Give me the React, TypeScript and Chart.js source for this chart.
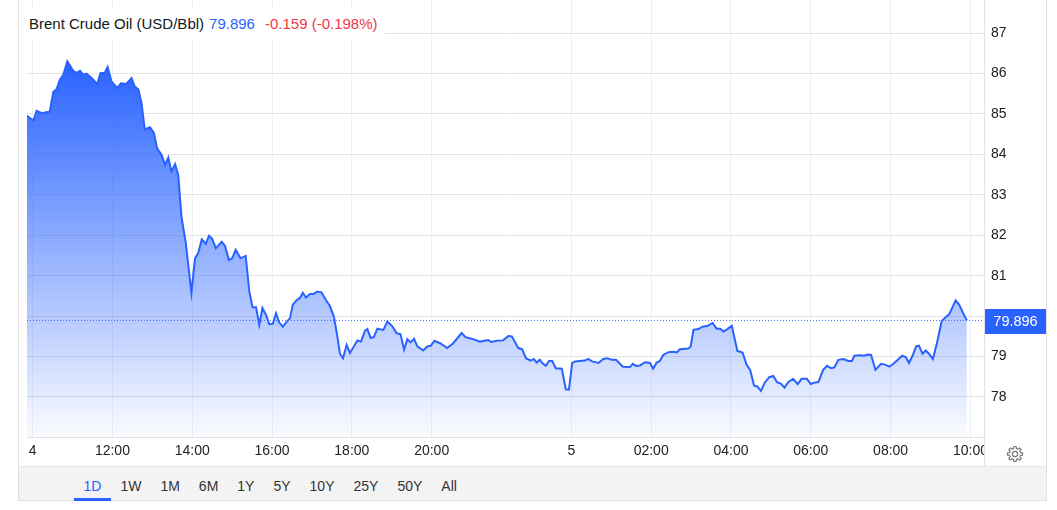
import React, { useEffect, useRef } from "react";
import { Chart, registerables } from "chart.js";

Chart.register(...registerables);

const FONT = '"Liberation Sans", Arial, Helvetica, sans-serif';

// display hours from 10:00 (day 4); the overnight pause is compressed on the axis
const times = [
  -0.15, 0.02, 0.1, 0.23, 0.43, 0.52, 0.6, 0.68, 0.77, 0.87,
  1.02, 1.1, 1.19, 1.27, 1.35, 1.48, 1.62, 1.7, 1.81, 1.88,
  1.98, 2.13, 2.21, 2.34, 2.48, 2.56, 2.65, 2.73, 2.81, 2.94,
  3.04, 3.12, 3.23, 3.32, 3.4, 3.48, 3.57, 3.65, 3.73, 3.84,
  3.98, 4.07, 4.15, 4.24, 4.34, 4.42, 4.5, 4.59, 4.74, 4.82,
  4.92, 5.0, 5.09, 5.21, 5.34, 5.43, 5.51, 5.6, 5.68, 5.76,
  5.85, 5.93, 6.02, 6.1, 6.18, 6.27, 6.35, 6.45, 6.52, 6.62,
  6.7, 6.77, 6.85, 6.95, 7.05, 7.13, 7.24, 7.35, 7.45, 7.55,
  7.63, 7.7, 7.78, 7.87, 7.95, 8.05, 8.14, 8.23, 8.33, 8.39,
  8.47, 8.55, 8.64, 8.79, 8.89, 9.02, 9.12, 9.22, 9.31, 9.39,
  9.47, 9.56, 9.64, 9.79, 9.89, 9.98, 10.07, 10.21, 10.39, 10.54,
  10.75, 10.85, 11.04, 11.21, 11.42, 11.49, 11.63, 11.79, 11.92, 12.01,
  12.17, 12.27, 12.36, 12.48, 12.56, 12.63, 12.71, 12.77, 12.86, 12.94,
  13.02, 13.11, 13.26, 13.36, 13.44, 13.52, 13.59, 13.84, 13.92, 14.02,
  14.18, 14.3, 14.4, 14.51, 14.62, 14.79, 14.97, 15.04, 15.12, 15.22,
  15.35, 15.47, 15.55, 15.64, 15.72, 15.8, 15.93, 16.06, 16.14, 16.22,
  16.43, 16.49, 16.56, 16.68, 16.79, 16.92, 17.04, 17.14, 17.23, 17.31,
  17.41, 17.52, 17.66, 17.79, 17.89, 17.98, 18.08, 18.16, 18.25, 18.35,
  18.46, 18.56, 18.66, 18.75, 18.84, 18.94, 19.06, 19.17, 19.27, 19.4,
  19.5, 19.61, 19.69, 19.81, 19.91, 20.01, 20.09, 20.19, 20.32, 20.44,
  20.53, 20.59, 20.73, 20.84, 20.93, 21.01, 21.12, 21.26, 21.36, 21.47,
  21.57, 21.68, 21.79, 21.88, 21.96, 22.05, 22.14, 22.21, 22.3, 22.38,
  22.46, 22.56, 22.66, 22.78, 22.88, 22.97, 23.13, 23.22, 23.31, 23.41,
];

const prices = [
  84.96, 84.84, 85.08, 85.02, 85.06, 85.55, 85.61, 85.84, 85.97, 86.3,
  86.07, 86.02, 86.07, 85.97, 86.0, 85.89, 85.74, 86.01, 86.02, 86.16,
  85.8, 85.64, 85.76, 85.74, 85.89, 85.68, 85.61, 85.27, 84.62, 84.67,
  84.53, 84.15, 83.99, 83.74, 83.92, 83.58, 83.76, 83.49, 82.46, 81.8,
  80.58, 81.43, 81.56, 81.9, 81.79, 81.99, 81.91, 81.68, 81.84, 81.74,
  81.39, 81.43, 81.64, 81.43, 81.49, 80.61, 80.22, 80.22, 79.78, 80.2,
  80.03, 79.8, 79.81, 80.07, 79.84, 79.74, 79.84, 79.95, 80.28, 80.4,
  80.45, 80.58, 80.46, 80.55, 80.55, 80.61, 80.59, 80.4, 80.25, 79.99,
  79.54, 79.07, 78.96, 79.29, 79.09, 79.25, 79.4, 79.37, 79.64, 79.68,
  79.46, 79.48, 79.69, 79.66, 79.87, 79.74, 79.58, 79.55, 79.17, 79.43,
  79.35, 79.44, 79.25, 79.15, 79.25, 79.27, 79.39, 79.33, 79.21, 79.33,
  79.58, 79.48, 79.43, 79.37, 79.41, 79.36, 79.39, 79.4, 79.51, 79.5,
  79.21, 79.18, 78.96, 78.9, 78.94, 78.85, 78.92, 78.84, 78.77, 78.89,
  78.89, 78.71, 78.7, 78.19, 78.18, 78.84, 78.88, 78.9, 78.94, 78.88,
  78.84, 78.94, 78.96, 78.92, 78.92, 78.75, 78.74, 78.82, 78.77, 78.78,
  78.86, 78.84, 78.7, 78.85, 78.89, 79.04, 79.11, 79.12, 79.1, 79.18,
  79.2, 79.25, 79.66, 79.68, 79.74, 79.76, 79.83, 79.69, 79.69, 79.62,
  79.68, 79.76, 79.14, 79.1, 78.8, 78.67, 78.28, 78.26, 78.15, 78.36,
  78.49, 78.52, 78.36, 78.33, 78.23, 78.37, 78.45, 78.32, 78.45, 78.45,
  78.32, 78.36, 78.37, 78.67, 78.77, 78.71, 78.73, 78.92, 78.94, 78.89,
  78.89, 79.02, 79.03, 79.02, 79.05, 79.04, 78.67, 78.82, 78.8, 78.75,
  78.82, 78.92, 79.02, 78.99, 78.84, 79.02, 79.25, 79.27, 79.07, 79.15,
  79.07, 78.94, 79.33, 79.88, 79.97, 80.05, 80.39, 80.28, 80.09, 79.896,
];

const xTickPositions = [0, 2, 4, 6, 8, 10, 13.5, 15.5, 17.5, 19.5, 21.5, 23.5];
const xTickLabels = ["4", "12:00", "14:00", "16:00", "18:00", "20:00", "5", "02:00", "04:00", "06:00", "08:00", "10:00"];
const yTickValues = [78, 79, 80, 81, 82, 83, 84, 85, 86, 87];

const titleText = "Brent Crude Oil (USD/Bbl)";
const lastPrice = 79.896;
const changeText = "-0.159 (-0.198%)";
const ranges = ["1D", "1W", "1M", "6M", "1Y", "5Y", "10Y", "25Y", "50Y", "All"];
const activeRange = "1D";

const BLUE = "#2962ff";
const RED = "#f23645";

function gearPath(cx: number, cy: number, rOut: number, rIn: number, teeth: number) {
  const pts: [number, number][] = [];
  const step = (Math.PI * 2) / teeth;
  for (let i = 0; i < teeth; i++) {
    const a = i * step;
    const hw = step * 0.2;
    const bw = step * 0.32;
    pts.push([a - bw, rIn], [a - hw, rOut], [a + hw, rOut], [a + bw, rIn]);
  }
  return (
    "M" +
    pts.map(([a, r]) => `${(cx + r * Math.cos(a)).toFixed(2)},${(cy + r * Math.sin(a)).toFixed(2)}`).join("L") +
    "Z"
  );
}

const overlayPlugin = {
  id: "priceOverlay",
  beforeDatasetsDraw(chart: any) {
    const { ctx, chartArea, scales } = chart;
    const y = Math.round(scales.y.getPixelForValue(lastPrice)) + 0.5;
    ctx.save();
    ctx.strokeStyle = "rgba(41,98,255,0.85)";
    ctx.lineWidth = 1;
    ctx.setLineDash([1, 2]);
    ctx.beginPath();
    ctx.moveTo(chartArea.left, y);
    ctx.lineTo(chartArea.right, y);
    ctx.stroke();
    ctx.restore();
  },
  afterDraw(chart: any) {
    const { ctx, chartArea, scales, width, height } = chart;
    ctx.save();
    // clip x labels overflowing into price-axis column
    ctx.fillStyle = "#ffffff";
    ctx.fillRect(chartArea.right + 1, chartArea.bottom + 1, width - chartArea.right - 1, height - chartArea.bottom - 1);
    // full-height price axis separator
    ctx.strokeStyle = "#e0e3eb";
    ctx.lineWidth = 1;
    ctx.beginPath();
    ctx.moveTo(Math.round(chartArea.right) + 0.5, 0);
    ctx.lineTo(Math.round(chartArea.right) + 0.5, height);
    ctx.stroke();
    // last price label
    const y = scales.y.getPixelForValue(lastPrice);
    const bx = Math.round(chartArea.right) + 1;
    const bw = width - bx;
    ctx.fillStyle = BLUE;
    ctx.fillRect(bx, Math.round(y - 11.5), bw, 25);
    ctx.fillStyle = "#ffffff";
    ctx.font = `14.5px ${FONT}`;
    ctx.textAlign = "center";
    ctx.textBaseline = "middle";
    ctx.fillText(lastPrice.toFixed(3), bx + bw / 2, y + 1.5);
    ctx.restore();
  },
};

export default function App() {
  const canvasRef = useRef<HTMLCanvasElement>(null);

  useEffect(() => {
    const canvas = canvasRef.current;
    if (!canvas) return;
    const maxPrice = Math.max(...prices);
    const chart = new Chart(canvas, {
      type: "line",
      data: {
        datasets: [
          {
            data: times.map((t, i) => ({ x: t, y: prices[i] })),
            borderColor: BLUE,
            borderWidth: 2,
            pointRadius: 0,
            tension: 0,
            fill: "start",
            backgroundColor: (ctx: any) => {
              const c = ctx.chart;
              const { chartArea, scales } = c;
              if (!chartArea) return "rgba(41,98,255,0.3)";
              const top = scales.y.getPixelForValue(maxPrice);
              const g = c.ctx.createLinearGradient(0, top, 0, chartArea.bottom);
              g.addColorStop(0, "rgba(41,98,255,1)");
              g.addColorStop(1, "rgba(41,98,255,0.02)");
              return g;
            },
          },
        ],
      },
      options: {
        animation: false,
        responsive: false,
        maintainAspectRatio: false,
        layout: { padding: { left: 8, top: 0, right: 0, bottom: 0 } },
        plugins: { legend: { display: false }, tooltip: { enabled: false } },
        scales: {
          x: {
            type: "linear",
            min: -0.14,
            max: 23.84,
            afterBuildTicks: (scale: any) => {
              scale.ticks = xTickPositions.map((v) => ({ value: v }));
            },
            afterFit: (scale: any) => {
              scale.height = 29;
              scale.paddingLeft = 0;
              scale.paddingRight = 0;
            },
            ticks: {
              autoSkip: false,
              maxRotation: 0,
              padding: 6,
              color: "#222",
              font: { family: FONT, size: 14 },
              callback: (_v: any, i: number) => xTickLabels[i],
            },
            grid: { color: "#edf0f4", drawTicks: false },
            border: { display: true, color: "#e0e0e0" },
          },
          y: {
            type: "linear",
            position: "right",
            min: 77.01,
            max: 87.82,
            afterBuildTicks: (scale: any) => {
              scale.ticks = yTickValues.map((v) => ({ value: v }));
            },
            afterFit: (scale: any) => {
              scale.width = 62;
              scale.paddingTop = 0;
              scale.paddingBottom = 0;
            },
            ticks: {
              padding: 7,
              color: "#222",
              font: { family: FONT, size: 14 },
              callback: (v: any) => String(v),
            },
            grid: { color: "#e4e4e4", drawTicks: false },
            border: { display: false },
          },
        },
      },
      plugins: [overlayPlugin],
    } as any);
    return () => chart.destroy();
  }, []);

  return (
    <div
      style={{
        position: "absolute",
        left: 0,
        top: 0,
        width: 1057,
        height: 510,
        background: "#fff",
        overflow: "hidden",
        fontFamily: FONT,
      }}
    >
      <div
        style={{
          position: "absolute",
          left: 18,
          top: -2,
          width: 1029,
          height: 503,
          boxSizing: "border-box",
          border: "1px solid #e0e0e0",
          background: "#fff",
        }}
      />
      <canvas
        ref={canvasRef}
        width={1027}
        height={466}
        style={{ position: "absolute", left: 19, top: 0, width: 1027, height: 466 }}
      />
      <div
        style={{
          position: "absolute",
          left: 27,
          top: 10,
          padding: "6px 7px 7px 2px",
          lineHeight: "16px",
          fontSize: 15,
          background: "#fff",
          color: "#131722",
          whiteSpace: "nowrap",
        }}
      >
        <span>{titleText}</span>
        <span style={{ color: BLUE, marginLeft: 5 }}>{lastPrice.toFixed(3)}</span>
        <span style={{ color: RED, marginLeft: 10 }}>{changeText}</span>
      </div>
      <svg
        width={18}
        height={18}
        viewBox="0 0 18 18"
        style={{ position: "absolute", left: 1005.5, top: 445 }}
      >
        <path d={gearPath(9, 9, 7.6, 5.6, 8)} fill="none" stroke="#777" strokeWidth={1.2} strokeLinejoin="round" />
        <circle cx={9} cy={9} r={2.6} fill="none" stroke="#777" strokeWidth={1.2} />
      </svg>
      <div
        style={{
          position: "absolute",
          left: 19,
          top: 466,
          width: 1027,
          height: 34,
          background: "#f3f3f3",
          borderTop: "1px solid #e6e6e6",
          boxSizing: "border-box",
        }}
      />
      <div
        style={{
          position: "absolute",
          left: 74,
          top: 466,
          height: 35,
          display: "flex",
          fontSize: 14,
        }}
      >
        {ranges.map((r) => (
          <div
            key={r}
            style={{
              position: "relative",
              padding: "0 9.5px",
              height: 35,
              boxSizing: "border-box",
              paddingTop: 12,
              lineHeight: "16px",
              color: r === activeRange ? BLUE : "#333",
            }}
          >
            {r}
            {r === activeRange && (
              <span
                style={{
                  position: "absolute",
                  left: 0,
                  right: 0,
                  bottom: 0,
                  height: 3,
                  background: BLUE,
                }}
              />
            )}
          </div>
        ))}
      </div>
    </div>
  );
}
